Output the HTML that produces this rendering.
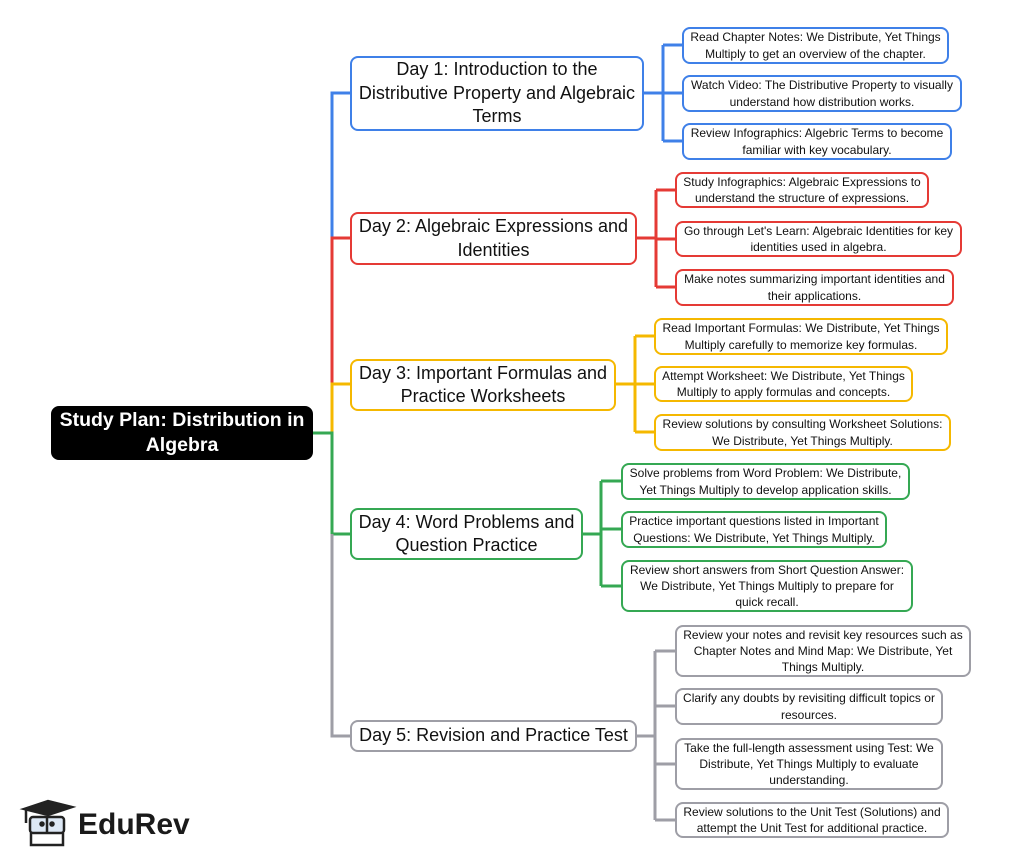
<!DOCTYPE html>
<html><head><meta charset="utf-8"><style>
body{margin:0;background:#fff;width:1024px;height:866px;position:relative;overflow:hidden;font-family:"Liberation Sans",Arial,sans-serif}
.b{position:absolute;box-sizing:border-box;background:#fff;border:2px solid;border-radius:8px;display:flex;align-items:center;justify-content:center;text-align:center;color:#111;line-height:1.35}
.d{font-size:18px;line-height:1.3}
.c{font-size:12px;padding:0 4px}
.bl{border-color:#3f80e8}.rd{border-color:#e53a35}.yl{border-color:#f5b800}.gr{border-color:#35a853}.gy{border-color:#9e9ea6}
svg{position:absolute;left:0;top:0}
</style></head><body>
<svg width="1024" height="866" fill="none" stroke-width="3">
<g stroke="#3f80e8"><path d="M350 93H332V238M644 93H663M663 45V141M663 45H682M663 93H682M663 141H682"/></g>
<g stroke="#e53a35"><path d="M350 238H332V383M637 238H656M656 190V287M656 190H675M656 239H675M656 287H675"/></g>
<g stroke="#f5b800"><path d="M350 384H332V433M616 384H635M635 336V432M635 336H654M635 384H654M635 432H654"/></g>
<g stroke="#35a853"><path d="M313 433H332V534H350M583 534H601M601 481V586M601 481H621M601 529H621M601 586H621"/></g>
<g stroke="#9e9ea6"><path d="M332 534V736H350M637 736H655M655 651V820M655 651H675M655 706H675M655 764H675M655 820H675"/></g>
</svg>
<div class="b" style="left:51px;top:406px;width:262px;height:54px;background:#000;border-color:#000;color:#fff;font-weight:bold;font-size:19.5px;line-height:1.3">Study Plan: Distribution in<br>Algebra</div>
<div class="b d bl" style="left:350px;top:56px;width:294px;height:75px">Day 1: Introduction to the<br>Distributive Property and Algebraic<br>Terms</div>
<div class="b d rd" style="left:350px;top:212px;width:287px;height:53px">Day 2: Algebraic Expressions and<br>Identities</div>
<div class="b d yl" style="left:350px;top:359px;width:266px;height:52px">Day 3: Important Formulas and<br>Practice Worksheets</div>
<div class="b d gr" style="left:350px;top:508px;width:233px;height:52px">Day 4: Word Problems and<br>Question Practice</div>
<div class="b d gy" style="left:350px;top:720px;width:287px;height:32px">Day 5: Revision and Practice Test</div>

<div class="b c bl" style="left:682px;top:27px;width:267px;height:37px">Read Chapter Notes: We Distribute, Yet Things<br>Multiply to get an overview of the chapter.</div>
<div class="b c bl" style="left:682px;top:75px;width:280px;height:37px">Watch Video: The Distributive Property to visually<br>understand how distribution works.</div>
<div class="b c bl" style="left:682px;top:123px;width:270px;height:37px">Review Infographics: Algebric Terms to become<br>familiar with key vocabulary.</div>

<div class="b c rd" style="left:675px;top:172px;width:254px;height:36px">Study Infographics: Algebraic Expressions to<br>understand the structure of expressions.</div>
<div class="b c rd" style="left:675px;top:221px;width:287px;height:36px">Go through Let's Learn: Algebraic Identities for key<br>identities used in algebra.</div>
<div class="b c rd" style="left:675px;top:269px;width:279px;height:37px">Make notes summarizing important identities and<br>their applications.</div>

<div class="b c yl" style="left:654px;top:318px;width:294px;height:37px">Read Important Formulas: We Distribute, Yet Things<br>Multiply carefully to memorize key formulas.</div>
<div class="b c yl" style="left:654px;top:366px;width:259px;height:36px">Attempt Worksheet: We Distribute, Yet Things<br>Multiply to apply formulas and concepts.</div>
<div class="b c yl" style="left:654px;top:414px;width:297px;height:37px">Review solutions by consulting Worksheet Solutions:<br>We Distribute, Yet Things Multiply.</div>

<div class="b c gr" style="left:621px;top:463px;width:289px;height:37px">Solve problems from Word Problem: We Distribute,<br>Yet Things Multiply to develop application skills.</div>
<div class="b c gr" style="left:621px;top:511px;width:266px;height:37px">Practice important questions listed in Important<br>Questions: We Distribute, Yet Things Multiply.</div>
<div class="b c gr" style="left:621px;top:560px;width:292px;height:52px">Review short answers from Short Question Answer:<br>We Distribute, Yet Things Multiply to prepare for<br>quick recall.</div>

<div class="b c gy" style="left:675px;top:625px;width:296px;height:52px">Review your notes and revisit key resources such as<br>Chapter Notes and Mind Map: We Distribute, Yet<br>Things Multiply.</div>
<div class="b c gy" style="left:675px;top:688px;width:268px;height:37px">Clarify any doubts by revisiting difficult topics or<br>resources.</div>
<div class="b c gy" style="left:675px;top:738px;width:268px;height:52px">Take the full-length assessment using Test: We<br>Distribute, Yet Things Multiply to evaluate<br>understanding.</div>
<div class="b c gy" style="left:675px;top:802px;width:274px;height:36px">Review solutions to the Unit Test (Solutions) and<br>attempt the Unit Test for additional practice.</div>

<svg width="80" height="70" style="left:18px;top:795px" stroke="#222" stroke-width="2.5" fill="none">
<path d="M6 14L30 6L54 12L30 20Z" fill="#222"/><path d="M8 15V28"/>
<rect x="12" y="22" width="34" height="16" rx="3" fill="#dde8f5"/><path d="M29 22V38"/>
<path d="M13 38V50H45V38"/><circle cx="24" cy="29" r="1.5" fill="#222"/><circle cx="34" cy="29" r="1.5" fill="#222"/>
</svg>
<div style="position:absolute;left:78px;top:808px;font-size:30px;font-weight:bold;color:#1a1a1a">EduRev</div>
</body></html>
